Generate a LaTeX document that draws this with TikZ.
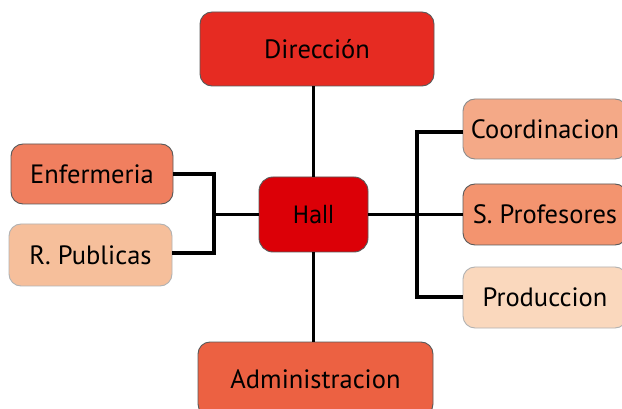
\documentclass[tikz,border=0pt]{standalone}
\usepackage{fontspec}
\setmainfont{PT Sans}
\newfontfamily\hallfont{DejaVu Sans Condensed}
\definecolor{cDir}{HTML}{E62B22}
\definecolor{cHall}{HTML}{DC0007}
\definecolor{cEnf}{HTML}{F07F5F}
\definecolor{cRP}{HTML}{F6BF9B}
\definecolor{cCoord}{HTML}{F4A987}
\definecolor{cSP}{HTML}{F3946F}
\definecolor{cProd}{HTML}{FAD8BD}
\definecolor{cAdm}{HTML}{EC6142}
\begin{document}
\begin{tikzpicture}[x=1pt,y=-1pt,
  box/.style={rounded corners=12pt, draw=black!65, line width=0.9pt, inner sep=0pt, font=\fontsize{26.5}{30}\selectfont, text=black},
  lightbox/.style={box, draw=black!30},
  conn/.style={line width=3.2pt, black},
  thin/.style={line width=2.2pt, black}]
\useasboundingbox (0,0) rectangle (622,409);
\clip (0,0) rectangle (622,409);
\fill[white] (0,0) rectangle (622,409);
\coordinate (lb) at (214,214.5);
\coordinate (rb) at (417,214.5);
\node[box, fill=cDir, minimum width=234pt, minimum height=74pt] (dir) at (317,49) {Dirección};
\node[box, fill=cHall, rounded corners=14pt, minimum width=109pt, minimum height=75pt, font=\hallfont\fontsize{24}{28}\selectfont] (hall) at (313.5,214.5) {Hall};
\node[box, fill=cEnf, minimum width=162pt, minimum height=60pt] (enf) at (92,174) {Enfermeria};
\node[lightbox, fill=cRP, minimum width=163pt, minimum height=62pt] (rp) at (90.5,255) {R. Publicas};
\node[box, fill=cCoord, draw=black!45, minimum width=164pt, minimum height=60pt] (coord) at (545,129) {Coordinacion};
\node[box, fill=cSP, minimum width=164pt, minimum height=61pt] (sp) at (545,214.5) {S. Profesores};
\node[lightbox, fill=cProd, minimum width=164pt, minimum height=61pt] (prod) at (545,297.5) {Produccion};
\node[box, fill=cAdm, minimum width=235pt, minimum height=74pt] (adm) at (315.5,379) {Administracion};
\draw[conn] (dir.south -| hall.north) -- (hall.north);
\draw[conn] (hall.south) -- (hall.south |- adm.north);
\draw[conn] (enf.east |- 0,174) -| (lb) |- (rp.east |- 0,253);
\draw[thin] (hall.west) -- (lb);
\draw[thin] (hall.east) -- (sp.west);
\draw[conn] (coord.west |- 0,132) -| (rb) |- (prod.west |- 0,297);
\end{tikzpicture}
\end{document}
